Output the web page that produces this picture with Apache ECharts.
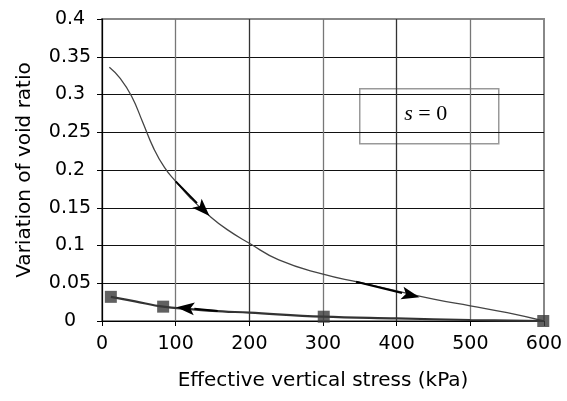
<!DOCTYPE html>
<html>
<head>
<meta charset="utf-8">
<script src="https://cdn.jsdelivr.net/npm/echarts@6/dist/echarts.min.js"></script>
<style>html,body{margin:0;padding:0;background:#fff}#c{width:567px;height:401px}</style>
</head>
<body>
<div id="c"></div>
<script>
// Loading curve (s = 0): effective vertical stress (kPa) vs variation of void ratio
var loadingX = [10, 25, 40, 55, 70, 85, 100, 120, 145, 170, 200, 240, 300, 350, 400, 450, 500, 550, 600];
var loadingY = [0.336, 0.321, 0.298, 0.264, 0.229, 0.203, 0.185, 0.163, 0.140, 0.121, 0.103, 0.081, 0.062, 0.051, 0.040, 0.029, 0.020, 0.011, 0.0];
// Unloading curve
var unloadX = [600, 500, 400, 300, 200, 150, 83, 45, 12];
var unloadY = [0.0, 0.0013, 0.0035, 0.0057, 0.011, 0.0135, 0.019, 0.026, 0.032];
// Measured points (square markers)
var pointX = [12, 83, 301, 599];
var pointY = [0.032, 0.019, 0.0057, 0.0];
// Direction arrows: [fromX, fromY, tipX, tipY]
var arrowList = [
  [100, 0.185, 146, 0.139],
  [345, 0.052, 431, 0.0314],
  [157, 0.0132, 101, 0.0183]
];
var xTicks = [0, 100, 200, 300, 400, 500, 600];
var yTicks = [0, 0.05, 0.1, 0.15, 0.2, 0.25, 0.3, 0.35, 0.4];
var xTitle = 'Effective vertical stress (kPa)';
var yTitle = 'Variation of void ratio';

function zip(a, b) { return a.map(function (v, i) { return [v, b[i]]; }); }

var chart = echarts.init(document.getElementById('c'), null, {renderer: 'canvas'});
var font = 'DejaVu Sans';
var ySplitColors = yTicks.map(function (v, i) { return i === yTicks.length - 1 ? 'transparent' : '#111'; });
var xSplitColors = xTicks.map(function (v, i) { return i === xTicks.length - 1 ? 'transparent' : (i % 2 ? '#777' : '#333'); });

chart.setOption({
  animation: false,
  backgroundColor: '#fff',
  grid: {left: 102, right: 23, top: 19, bottom: 80, show: true, borderColor: '#888', borderWidth: 2, backgroundColor: 'transparent'},
  xAxis: {
    type: 'value', min: xTicks[0], max: xTicks[xTicks.length - 1], interval: 100,
    name: xTitle, nameLocation: 'middle', nameGap: 50,
    nameTextStyle: {fontFamily: font, fontSize: 20, color: '#000'},
    axisLine: {show: true, lineStyle: {color: '#000', width: 1}},
    axisTick: {show: true, inside: false, length: 5, lineStyle: {color: '#000'}},
    axisLabel: {fontFamily: font, fontSize: 19, color: '#000', margin: 14},
    splitLine: {show: true, lineStyle: {color: xSplitColors, width: 1.3}}
  },
  yAxis: {
    type: 'value', min: yTicks[0], max: yTicks[yTicks.length - 1], interval: 0.05,
    name: yTitle, nameLocation: 'middle', nameGap: 67,
    nameTextStyle: {fontFamily: font, fontSize: 20, color: '#000'},
    axisLine: {show: true, lineStyle: {color: '#000', width: 1}},
    axisTick: {show: true, inside: false, length: 5, lineStyle: {color: '#000'}},
    axisLabel: {fontFamily: font, fontSize: 19, color: '#000', margin: 32, align: 'center'},
    splitLine: {show: true, lineStyle: {color: ySplitColors, width: 1}}
  },
  series: [
    {
      type: 'line', data: zip(loadingX, loadingY), smooth: 0.5, showSymbol: false,
      lineStyle: {color: '#444', width: 1.3}, z: 3
    },
    {
      type: 'line', data: zip(unloadX, unloadY), smooth: 0.4, showSymbol: false,
      lineStyle: {color: '#333', width: 2.2}, z: 3
    },
    {
      type: 'scatter', data: zip(pointX, pointY), symbol: 'rect', symbolSize: 12,
      itemStyle: {color: '#3a3a3a'}, z: 4
    },
    {
      type: 'custom', data: arrowList, encode: {x: [0, 2], y: [1, 3]}, z: 5,
      renderItem: function (params, api) {
        var p0 = api.coord([api.value(0), api.value(1)]);
        var p1 = api.coord([api.value(2), api.value(3)]);
        var dx = p1[0] - p0[0], dy = p1[1] - p0[1];
        var len = Math.sqrt(dx * dx + dy * dy);
        var ux = dx / len, uy = dy / len;
        var L = 18, W = 6.5;
        var bx = p1[0] - ux * L, by = p1[1] - uy * L;
        return {
          type: 'group',
          children: [
            {type: 'line', shape: {x1: p0[0], y1: p0[1], x2: bx, y2: by}, style: {stroke: '#000', lineWidth: 2}},
            {type: 'polygon', shape: {points: [[p1[0], p1[1]], [bx - uy * W, by + ux * W], [bx + ux * 4, by + uy * 4], [bx + uy * W, by - ux * W]]}, style: {fill: '#000'}}
          ]
        };
      }
    }
  ],
  graphic: [
    {
      type: 'group', left: 359, top: 88,
      children: [
        {type: 'rect', shape: {x: 0, y: 0, width: 139, height: 55}, style: {fill: '#fff', stroke: '#999', lineWidth: 1.5}},
        {type: 'text', x: 66, y: 25, style: {
          text: '{i|s} = 0', rich: {i: {fontStyle: 'italic', fontFamily: 'Liberation Serif', fontSize: 22}},
          fontFamily: 'Liberation Serif', fontSize: 22, fill: '#000', align: 'center', verticalAlign: 'middle'}}
      ]
    }
  ]
});
</script>
</body>
</html>
